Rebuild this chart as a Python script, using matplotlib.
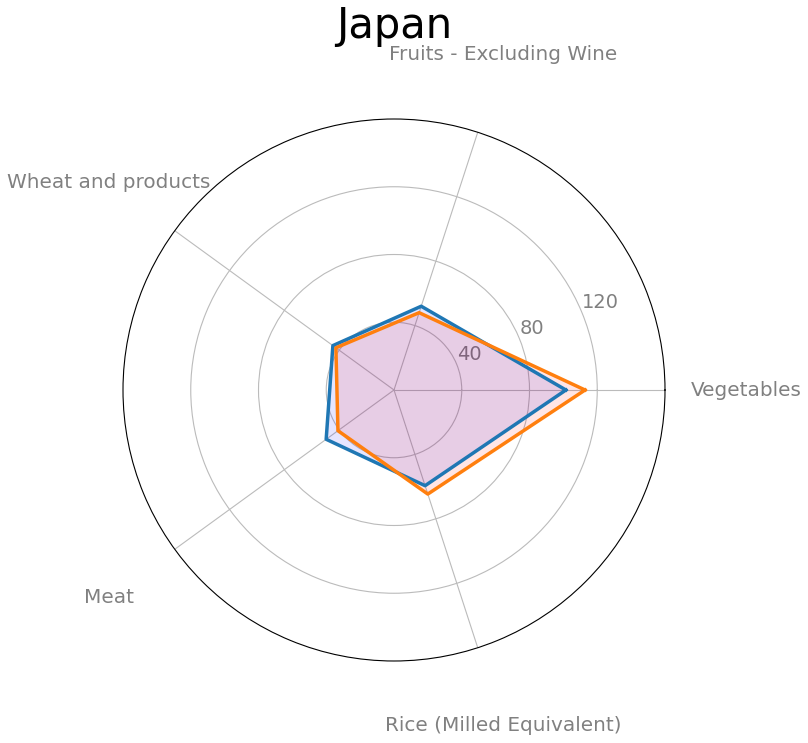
import numpy as np
import matplotlib.pyplot as plt

# food supply categories (clockwise from the right, counter-clockwise angles)
categories = ["Vegetables", "Fruits - Excluding Wine", "Wheat and products",
              "Meat", "Rice (Milled Equivalent)"]
series_a = [101.5, 52, 44.6, 49.5, 59.4]
series_b = [112.8, 48, 42.4, 40.9, 64.6]
rticks = [40, 80, 120]
title = "Japan"

n = len(categories)
angles = np.linspace(0, 2 * np.pi, n, endpoint=False)
closed = np.append(angles, angles[0])

fig = plt.figure(figsize=(8.08, 7.43), dpi=100)
ax = fig.add_axes([123 / 808, 82 / 743, 542 / 808, 542 / 743], polar=True)

a = np.append(series_a, series_a[0])
b = np.append(series_b, series_b[0])
ax.fill(closed, a, color="blue", alpha=0.1, zorder=2)
ax.fill(closed, b, color="red", alpha=0.1, zorder=2)
ax.plot(closed, a, color="#1f77b4", linewidth=2.5, zorder=3)
ax.plot(closed, b, color="#ff7f0e", linewidth=2.5, zorder=3)

ax.set_ylim(0, 160)
ax.set_yticks(rticks)
ax.set_yticklabels([str(t) for t in rticks], color="grey", fontsize=14)
ax.set_rlabel_position(22.5)
ax.set_xticks(angles)
ax.set_xticklabels([])
ax.grid(color="#bbbbbb", linewidth=0.8)
ax.spines["polar"].set_color("black")
ax.spines["polar"].set_linewidth(0.8)

# category names sit well outside the outer ring
for ang, lab in zip(angles, categories):
    ax.text(ang, 208, lab, ha="center", va="center", color="grey", fontsize=14.4)

fig.text(394 / 808, 1 - 26 / 743, title, ha="center", va="center", fontsize=30)

fig.savefig("out.png", dpi=100)
